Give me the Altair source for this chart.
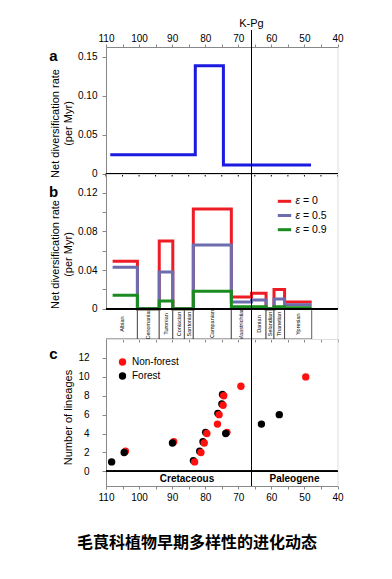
import altair as alt
import pandas as pd

FONT = "Liberation Sans"
W = 231.5
HA, HB, HC = 126.5, 165, 147

# ---------------- data ----------------
x_ticks = [40, 45, 50, 55, 60, 65, 70, 75, 80, 85, 90, 95, 100, 105, 110]
kpg_age = [66.0]

# panel a: net diversification rate (step function)
a_age = [108.7, 83.0, 74.5, 48.0]
a_rate = [0.024, 0.138, 0.011, 0.011]

# panel b: stages and rates for three extinction fractions
stage_names = ["Albian", "Cenomanian", "Turonian", "Coniacian", "Santonian", "Campanian",
               "Maastrichtian", "Danian", "Selandian", "Thanetian", "Ypresian"]
stage_start = [113.0, 100.5, 93.9, 89.8, 86.3, 83.6, 72.1, 66.0, 61.6, 59.2, 56.0]
stage_end = [100.5, 93.9, 89.8, 86.3, 83.6, 72.1, 66.0, 61.6, 59.2, 56.0, 47.8]
line_start = 108.0
rate_eps0 = [0.049, 0.0, 0.070, 0.0, 0.0, 0.103, 0.012, 0.016, 0.0, 0.020, 0.007]
rate_eps05 = [0.043, 0.0, 0.038, 0.0, 0.0, 0.066, 0.007, 0.009, 0.0, 0.010, 0.004]
rate_eps09 = [0.014, 0.0, 0.008, 0.0, 0.0, 0.018, 0.002, 0.002, 0.0, 0.002, 0.001]
eps_labels = ["= 0", "= 0.5", "= 0.9"]

# panel c: cumulative number of lineages
c_age = [108.3, 104.5, 89.9, 83.2, 81.3, 80.3, 79.5, 76.3, 75.8, 74.6, 74.4, 73.8, 69.2, 63.0, 57.6, 49.6]
c_count = [1, 2, 3, 1, 2, 3, 4, 5, 6, 7, 8, 4, 9, 5, 6, 10]
c_habitat = ["Forest", "Forest", "Forest", "Non-forest", "Non-forest", "Non-forest", "Non-forest",
             "Non-forest", "Non-forest", "Non-forest", "Non-forest", "Forest", "Non-forest",
             "Forest", "Forest", "Non-forest"]
c_mixed = [False, True, True, True, True, True, True, False, True, True, True, True, False,
           False, False, False]
era_names = ["Cretaceous", "Paleogene"]
era_mid = [85.5, 53.0]
legend_c = ["Non-forest", "Forest"]

title_cn = "毛茛科植物早期多样性的进化动态"

# ---------------- styling ----------------
RED, SLATE, GREEN, BLUE = "#ee1c24", "#6c6cae", "#1a8c1f", "#1a1ae0"
xscale = alt.Scale(domain=[40, 110], reverse=True, nice=False, zero=False)
lab10 = "datum.value % 10 === 0 ? datum.label : ''"


def X(field, axis=None):
    return alt.X(field, type="quantitative", scale=xscale, axis=axis)


def ticks_df():
    return pd.DataFrame({"age": x_ticks})


kpg_df = pd.DataFrame({"age": kpg_age, "lab": ["K-Pg"]})

def letter(t, y):
    return alt.Chart(pd.DataFrame({"t": [t]})).mark_text(
        font=FONT, fontSize=15, fontWeight="bold", align="center", baseline="middle", color="black"
    ).encode(text="t:N", x=alt.value(-52.5), y=alt.value(y))

# ---------------- panel a ----------------
top_axis = alt.Axis(orient="top", values=x_ticks, labelExpr=lab10, tickSize=3, labelPadding=1,
                    labelFlush=False, title=None, grid=False)
ya_axis = alt.Axis(values=[0, 0.05, 0.10, 0.15], labelExpr="datum.value === 0 ? '0' : format(datum.value, '.2f')",
                   tickSize=4, labelPadding=5, grid=False, titleFontWeight="normal",
                   title=["Net diversification rate", "(per Myr)"], titleX=-51, titleY=76,
                   titleAlign="center", titleBaseline="middle", titleLineHeight=13)
a_df = pd.DataFrame({"age": a_age, "rate": a_rate, "i": range(len(a_age))})
ya_scale = alt.Scale(domain=[0, 0.1622], nice=False, zero=False)

pa_line = alt.Chart(a_df).mark_line(interpolate="step-after", color=BLUE, strokeWidth=3).encode(
    x=X("age", top_axis), y=alt.Y("rate:Q", scale=ya_scale, axis=ya_axis), order="i:Q")
pa_kpg = alt.Chart(kpg_df).mark_rule(color="black", strokeWidth=1).encode(
    x=X("age", top_axis), y=alt.value(-17), y2=alt.value(HA))
pa_kpg_t = alt.Chart(kpg_df).mark_text(font=FONT, fontSize=11, color="black", baseline="middle").encode(
    x=X("age", top_axis), y=alt.value(-23), text="lab:N")
pa_base = alt.Chart(ticks_df()).mark_rule(color="black").encode(
    x=alt.value(0), x2=alt.value(W), y=alt.value(HA))
pa_ticks = alt.Chart(ticks_df()).mark_rule(color="black").encode(
    x=X("age", top_axis), y=alt.value(HA), y2=alt.value(HA + 3))
panel_a = alt.layer(pa_line, pa_kpg, pa_kpg_t, pa_base, pa_ticks, letter("a", 9)).properties(
    width=W, height=HA)

# ---------------- panel b ----------------
b_axis_x = alt.Axis(orient="bottom", values=x_ticks, labels=False, tickSize=3, title=None, grid=False)
yb_scale = alt.Scale(domain=[-0.0313, 0.1393], nice=False, zero=False)
yb_axis = alt.Axis(values=[0, 0.02, 0.04, 0.06, 0.08, 0.10, 0.12],
                   labelExpr="datum.value === 0 ? '0' : (round(datum.value * 100) % 4 === 0 ? format(datum.value, '.2f') : '')",
                   tickSize=4, labelPadding=5, grid=False, titleFontWeight="normal",
                   title=["Net diversification rate", "(per Myr)"], titleX=-51, titleY=80,
                   titleAlign="center", titleBaseline="middle", titleLineHeight=13)

stage_df = pd.DataFrame({
    "name": stage_names, "start": stage_start, "end": stage_end,
    "mid": [(min(s, 110) + e) / 2 for s, e in zip(stage_start, stage_end)],
})
pb_rect = alt.Chart(stage_df).mark_rect(fill="white", stroke="#333333", strokeWidth=0.8, clip=True).encode(
    x=X("start", b_axis_x), x2="end:Q",
    y=alt.datum(0, scale=yb_scale, axis=yb_axis), y2=alt.value(HB))
pb_lab = alt.Chart(stage_df).mark_text(font=FONT, fontSize=5.5, angle=270, color="black",
                                       baseline="middle", align="center").encode(
    x=X("mid", b_axis_x), y=alt.value(150), text="name:N")


def step_df(vals):
    ages = [line_start] + stage_start[1:] + [stage_end[-1]]
    rates = list(vals) + [vals[-1]]
    return pd.DataFrame({"age": ages, "rate": rates, "i": range(len(ages))})


def step_layer(vals, color):
    return alt.Chart(step_df(vals)).mark_line(interpolate="step-after", color=color, strokeWidth=3).encode(
        x=X("age", b_axis_x), y=alt.Y("rate:Q", scale=yb_scale, axis=yb_axis), order="i:Q")


pb_zero = alt.Chart(ticks_df()).mark_rule(color="black").encode(
    x=alt.value(0), x2=alt.value(W), y=alt.datum(0, scale=yb_scale, axis=yb_axis))
pb_kpg = alt.Chart(kpg_df).mark_rule(color="black", strokeWidth=1).encode(
    x=X("age", b_axis_x), y=alt.value(0), y2=alt.value(HB))

leg_b = []
for k, (lab, col) in enumerate(zip(eps_labels, [RED, SLATE, GREEN])):
    yy = 27.3 + 14.2 * k
    d = pd.DataFrame({"t": [lab]})
    leg_b.append(alt.Chart(d).mark_rule(color=col, strokeWidth=3).encode(
        x=alt.value(171.8), x2=alt.value(185.2), y=alt.value(yy)))
    leg_b.append(alt.Chart(d).mark_text(text="ε", font=FONT, fontSize=10.5, fontStyle="italic",
                                        align="left", baseline="middle", color="black").encode(
        x=alt.value(189.5), y=alt.value(yy)))
    leg_b.append(alt.Chart(d).mark_text(font=FONT, fontSize=10.5, align="left", baseline="middle",
                                        color="black").encode(
        x=alt.value(197), y=alt.value(yy), text="t:N"))

panel_b = alt.layer(pb_rect, pb_lab, step_layer(rate_eps0, RED), step_layer(rate_eps05, SLATE),
                    step_layer(rate_eps09, GREEN), pb_zero, pb_kpg, *leg_b, letter("b", 18)).properties(
    width=W, height=HB)

# ---------------- panel c ----------------
c_axis_x = alt.Axis(orient="bottom", values=x_ticks, labelExpr=lab10, tickSize=3, labelPadding=3,
                    labelFlush=False, title=None, grid=False)
yc_scale = alt.Scale(domain=[-1.553, 14.01], nice=False, zero=False)
yc_axis = alt.Axis(values=[0, 2, 4, 6, 8, 10, 12], tickSize=4, labelPadding=13, grid=False,
                   titleFontWeight="normal",
                   title="Number of lineages", titleX=-38, titleY=78,
                   titleAlign="center", titleBaseline="middle")
c_df = pd.DataFrame({"age": c_age, "n": c_count, "hab": c_habitat, "mixed": c_mixed})
cscale = alt.Scale(domain=["Non-forest", "Forest"], range=["#ff1010", "#000000"])

shadow_red = alt.Chart(c_df).transform_filter("datum.mixed && datum.hab === 'Non-forest'").mark_circle(
    size=52, opacity=1, color="black", xOffset=-1.3, yOffset=-1.3).encode(
    x=X("age", c_axis_x), y=alt.Y("n:Q", scale=yc_scale, axis=yc_axis))
shadow_blk = alt.Chart(c_df).transform_filter("datum.mixed && datum.hab === 'Forest'").mark_circle(
    size=52, opacity=1, color="#ff1010", xOffset=1.3, yOffset=-1.3).encode(
    x=X("age", c_axis_x), y=alt.Y("n:Q", scale=yc_scale, axis=yc_axis))
pts = alt.Chart(c_df).mark_circle(size=55, opacity=1).encode(
    x=X("age", c_axis_x), y=alt.Y("n:Q", scale=yc_scale, axis=yc_axis),
    color=alt.Color("hab:N", scale=cscale, legend=None))
pc_zero = alt.Chart(ticks_df()).mark_rule(color="black").encode(
    x=alt.value(0), x2=alt.value(W), y=alt.datum(0, scale=yc_scale, axis=yc_axis))
pc_kpg = alt.Chart(kpg_df).mark_rule(color="black", strokeWidth=1).encode(
    x=X("age", c_axis_x), y=alt.value(0), y2=alt.value(HC))
era_df = pd.DataFrame({"name": era_names, "age": era_mid})
pc_era = alt.Chart(era_df).mark_text(font=FONT, fontSize=10, fontWeight="bold", color="black",
                                     baseline="middle").encode(
    x=X("age", c_axis_x), y=alt.datum(-0.776, scale=yc_scale, axis=yc_axis), text="name:N")

leg_c = []
for k, lab in enumerate(legend_c):
    yy = 23 + 14 * k
    d = pd.DataFrame({"t": [lab]})
    leg_c.append(alt.Chart(d).mark_circle(size=55, opacity=1).encode(
        x=alt.value(16.5), y=alt.value(yy), color=alt.Color("t:N", scale=cscale, legend=None)))
    leg_c.append(alt.Chart(d).mark_text(font=FONT, fontSize=10, align="left", baseline="middle",
                                        color="black").encode(
        x=alt.value(26), y=alt.value(yy), text="t:N"))

cn = alt.Chart(pd.DataFrame({"t": [title_cn]})).mark_text(
    font="Noto Sans CJK SC", fontSize=16, fontWeight="bold", color="black", align="center",
    baseline="middle").encode(x=alt.value(91), y=alt.value(204), text="t:N")

panel_c = alt.layer(shadow_red, shadow_blk, pts, pc_zero, pc_kpg, pc_era, *leg_c, cn,
                    letter("c", 14.5)).properties(width=W, height=HC)

chart = alt.vconcat(panel_a, panel_b, panel_c, spacing=0, bounds="flush").properties(
    padding={"left": 40, "top": 9, "right": 5, "bottom": 5}
).configure_view(stroke=None).configure_axis(
    labelFont=FONT, titleFont=FONT, labelFontSize=11, titleFontSize=11, titleFontWeight="normal",
    labelColor="black", titleColor="black", domainColor="black", tickColor="black",
    domainWidth=1, tickWidth=1
).configure(background="white")

chart.save("out.html", embed_options={"renderer": "svg", "actions": False})
